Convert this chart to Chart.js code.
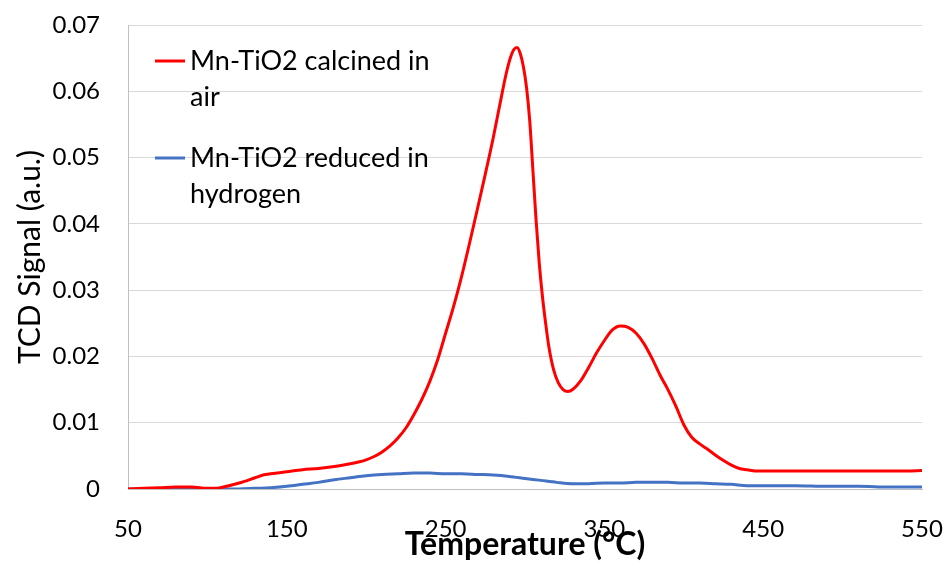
<!DOCTYPE html>
<html>
<head>
<meta charset="utf-8">
<title>TPR profiles</title>
<script src="https://cdn.jsdelivr.net/npm/chart.js@4.4.0/dist/chart.umd.min.js"></script>
<style>
  html, body { margin: 0; padding: 0; background: #ffffff; }
  #wrap { width: 948px; height: 572px; }
</style>
</head>
<body>
<div id="wrap"><canvas id="tprChart" width="948" height="572"></canvas></div>
<script>
/* TPR data: temperature (°C) vs TCD signal (a.u.) */
const airTemps = [50, 60, 70, 80, 90, 100, 105, 110, 120, 130, 135, 140, 150, 160, 170, 180, 190, 200,
  205, 210, 215, 220, 225, 230, 235, 240, 245, 250, 255, 260, 265, 270, 275, 280, 285, 288, 291, 293,
  295, 297, 299, 301, 303, 305, 307, 309, 311, 313, 315, 318, 321, 324, 327, 330, 335, 340, 345, 350,
  355, 360, 365, 370, 375, 380, 385, 390, 395, 400, 405, 410, 415, 420, 425, 430, 435, 440, 445, 460,
  480, 500, 520, 540, 550];
const airSignal = [0, 0.0001, 0.0002, 0.0003, 0.0003, 0.0001, 0.0001, 0.0003, 0.0009, 0.0017, 0.0021,
  0.0023, 0.0026, 0.0029, 0.0031, 0.0034, 0.0038, 0.0044, 0.0049, 0.0056, 0.0065, 0.0077, 0.0092,
  0.0112, 0.0135, 0.0162, 0.0195, 0.0235, 0.0275, 0.032, 0.037, 0.0422, 0.0475, 0.053, 0.059,
  0.0625, 0.0652, 0.0663, 0.0666, 0.0657, 0.0637, 0.0605, 0.0555, 0.048, 0.0405, 0.034, 0.029, 0.025,
  0.0215, 0.018, 0.016, 0.015, 0.0147, 0.015, 0.0163, 0.0183, 0.0205, 0.0224, 0.024, 0.0246, 0.0244,
  0.0235, 0.0219, 0.0197, 0.0172, 0.015, 0.0125, 0.0097, 0.0078, 0.0068, 0.006, 0.0051, 0.0043,
  0.0036, 0.0031, 0.0029, 0.0027, 0.0027, 0.0027, 0.0027, 0.0027, 0.0027, 0.0028];

const h2Temps = [50, 100, 120, 130, 140, 150, 160, 170, 180, 190, 200, 210, 220, 230, 240, 250, 260,
  270, 280, 290, 300, 310, 320, 330, 340, 350, 360, 370, 380, 390, 400, 410, 420, 430, 440, 450,
  470, 490, 510, 530, 550];
const h2Signal = [0, 0, 0, 0.0001, 0.0002, 0.0004, 0.0007, 0.001, 0.0014, 0.0017, 0.002, 0.0022,
  0.0023, 0.0024, 0.0024, 0.0023, 0.0023, 0.0022, 0.0021, 0.0019, 0.0016, 0.0013, 0.001, 0.0008,
  0.0008, 0.0009, 0.0009, 0.001, 0.001, 0.001, 0.0009, 0.0009, 0.0008, 0.0007, 0.0005, 0.0005,
  0.0005, 0.0004, 0.0004, 0.0003, 0.0003];

const seriesNames = ['Mn-TiO2 calcined in air', 'Mn-TiO2 reduced in hydrogen'];
// wrapped the way they show in the key
const legendLines = [['Mn-TiO2 calcined in', 'air'], ['Mn-TiO2 reduced in', 'hydrogen']];
const xTicks = [50, 150, 250, 350, 450, 550];

const FONT = 'Lato, "Open Sans", sans-serif';

function toPoints(xs, ys) {
  return xs.map(function (x, i) { return { x: x, y: ys[i] }; });
}

// key drawn inside the plot, top left, labels wrap onto two lines
const insideLegend = {
  id: 'insideLegend',
  afterDatasetsDraw: function (chart) {
    var ctx = chart.ctx;
    var area = chart.chartArea;
    var x0 = area.left + 27;
    var y = area.top + 45;
    ctx.save();
    ctx.font = '27px ' + FONT;
    ctx.textBaseline = 'alphabetic';
    ctx.fillStyle = '#000000';
    chart.data.datasets.forEach(function (ds, i) {
      ctx.strokeStyle = ds.borderColor;
      ctx.lineWidth = 3;
      ctx.beginPath();
      ctx.moveTo(x0, y - 9);
      ctx.lineTo(x0 + 30, y - 9);
      ctx.stroke();
      legendLines[i].forEach(function (line, j) {
        ctx.fillText(line, x0 + 35, y + j * 36);
      });
      y += 97;
    });
    ctx.restore();
  }
};

function createTprChart(canvasId) {
  var el = document.getElementById(canvasId);
  return new Chart(el, {
    type: 'line',
    data: {
      datasets: [{
        label: seriesNames[0],
        data: toPoints(airTemps, airSignal),
        borderColor: '#ff0000',
        borderWidth: 3,
        pointRadius: 0,
        cubicInterpolationMode: 'monotone'
      }, {
        label: seriesNames[1],
        data: toPoints(h2Temps, h2Signal),
        borderColor: '#4472c4',
        borderWidth: 3,
        pointRadius: 0,
        cubicInterpolationMode: 'monotone'
      }]
    },
    options: {
      responsive: false,
      animation: false,
      layout: { padding: { top: 25, right: 26, left: 0, bottom: 0 } },
      plugins: {
        legend: { display: false },
        tooltip: { enabled: false }
      },
      scales: {
        x: {
          type: 'linear',
          min: 50,
          max: 550,
          afterBuildTicks: function (axis) {
            axis.ticks = xTicks.map(function (v) { return { value: v }; });
          },
          // fixed axis band so the title tucks up against the tick labels
          afterFit: function (axis) {
            axis.height = 83;
            axis.paddingLeft = 0;
            axis.paddingRight = 0;
          },
          grid: { display: false, drawTicks: false },
          border: { display: true, color: '#bfbfbf', width: 1 },
          ticks: {
            color: '#000000',
            font: { family: FONT, size: 24 },
            padding: 26,
            maxRotation: 0
          },
          title: {
            display: true,
            text: 'Temperature (°C)',
            color: '#000000',
            font: { family: FONT, size: 32, weight: 'bold' },
            padding: { top: 0, bottom: 8 }
          }
        },
        y: {
          min: 0,
          max: 0.07,
          afterFit: function (axis) {
            axis.width = 128;
            axis.paddingTop = 0;
            axis.paddingBottom = 0;
          },
          grid: { color: '#d9d9d9', lineWidth: 1, drawTicks: false },
          border: { display: true, color: '#bfbfbf', width: 1 },
          ticks: {
            stepSize: 0.01,
            color: '#000000',
            font: { family: FONT, size: 24 },
            padding: 28,
            callback: function (v) { return v === 0 ? '0' : v.toFixed(2); }
          },
          title: {
            display: true,
            text: 'TCD Signal (a.u.)',
            color: '#000000',
            font: { family: FONT, size: 30 },
            padding: { top: 12, bottom: 0 }
          }
        }
      }
    },
    plugins: [insideLegend]
  });
}

createTprChart('tprChart');
</script>
</body>
</html>
